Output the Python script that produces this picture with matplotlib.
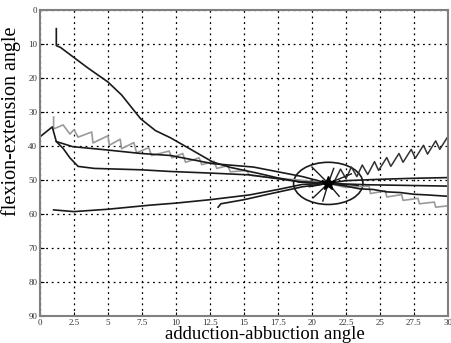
import matplotlib
matplotlib.use("Agg")
import matplotlib.pyplot as plt
from matplotlib.patches import Ellipse

# joint-angle trajectories converging on one posture
top_x = [1.2, 1.2, 1.5, 2.5, 3.5, 5.0, 6.0, 7.4, 8.5, 9.6, 11.0, 12.7, 14.0, 16.0, 17.5, 19.1, 21.2,
         22.5, 23.5, 24.5, 25.5, 26.5, 27.5, 28.5, 30.0]
top_y = [5.5, 10.5, 11.0, 14.0, 17.0, 21.2, 25.0, 32.0, 35.5, 37.6, 40.8, 44.7, 46.3, 48.0, 49.4, 50.6, 51.0,
         51.8, 52.6, 52.8, 53.5, 53.7, 54.2, 54.4, 54.8]

upper_x = [0.0, 0.9, 1.2, 2.4, 5.0, 7.4, 9.6, 12.7, 15.7, 19.3, 21.2, 24.0, 27.0, 30.0]
upper_y = [37.3, 34.4, 38.7, 40.2, 41.2, 42.2, 42.8, 45.2, 46.2, 49.0, 51.0, 51.4, 51.6, 51.8]

lower_x = [1.2, 1.7, 2.2, 2.8, 4.0, 7.4, 9.6, 12.7, 15.4, 19.3, 21.2, 22.5, 25.0, 27.5, 30.0]
lower_y = [38.7, 40.7, 43.5, 46.0, 46.6, 47.0, 47.5, 48.0, 48.5, 50.6, 51.0, 50.2, 49.8, 49.5, 49.3]

rise_x = [1.0, 2.5, 5.0, 8.1, 10.0, 12.5, 15.4, 17.5, 19.3, 21.2]
rise_y = [58.8, 59.3, 58.6, 57.4, 56.8, 55.8, 54.4, 52.8, 51.3, 51.0]

short_x = [13.1, 13.3, 15.0, 17.0, 19.3, 21.2]
short_y = [58.0, 57.0, 55.8, 54.0, 52.0, 51.0]

gray_x = [1.0, 1.0, 1.7, 2.2, 2.5, 2.8, 3.8, 3.9, 5.0, 5.1, 5.9, 6.0, 6.9, 7.1, 8.0, 8.2, 9.5, 9.7,
          10.5, 10.7, 11.7, 11.9, 12.8, 13.0, 13.8, 14.0, 15.2, 15.4, 17.5, 19.0, 21.2,
          22.5, 24.2, 24.3, 25.4, 25.5, 26.6, 26.7, 27.8, 27.9, 29.0, 29.1, 30.0]
gray_y = [31.5, 35.0, 33.8, 36.5, 35.2, 37.4, 35.9, 39.1, 37.0, 39.8, 38.0, 40.8, 39.0, 42.0, 40.5, 42.8, 41.5, 43.5,
          42.2, 44.8, 43.5, 45.5, 44.5, 46.6, 45.8, 47.6, 47.2, 48.6, 49.5, 50.0, 51.0,
          52.2, 51.8, 54.0, 53.2, 55.0, 54.3, 56.0, 55.4, 57.0, 56.5, 58.0, 57.6]

saw_x = [21.7, 22.1, 22.5, 22.9, 23.3, 23.7, 24.1, 24.6, 24.9, 25.5, 25.8, 26.4, 26.7, 27.3, 27.6, 28.2,
         28.5, 29.1, 29.4, 30.0]
saw_y = [50.0, 46.8, 49.6, 46.2, 49.0, 45.6, 48.4, 44.6, 47.2, 43.4, 46.0, 42.2, 44.8, 41.0, 43.6, 39.8,
         42.4, 38.5, 41.0, 37.2]

# focus point and spikes around it
focus = (21.2, 51.0)
spike_x = [20.0, 20.1, 20.8, 22.0, 21.6, 19.0, 23.4, 22.9, 19.8]
spike_y = [46.2, 55.2, 56.2, 54.8, 46.6, 50.6, 51.6, 48.2, 52.0]
ell_w, ell_h = 5.1, 12.4

x_ticks = [0, 2.5, 5, 7.5, 10, 12.5, 15, 17.5, 20, 22.5, 25, 27.5, 30]
y_ticks = [0, 10, 20, 30, 40, 50, 60, 70, 80, 90]

fig = plt.figure(figsize=(4.52, 3.43), dpi=100)
ax = fig.add_axes([0.0885, 0.0787, 0.9025, 0.8923])

ax.plot(gray_x, gray_y, color="#9a9a9a", lw=1.2)
ax.plot(top_x, top_y, color="#1a1a1a", lw=1.2)
ax.plot(upper_x, upper_y, color="#1a1a1a", lw=1.2)
ax.plot(lower_x, lower_y, color="#1a1a1a", lw=1.2)
ax.plot(rise_x, rise_y, color="#1a1a1a", lw=1.2)
ax.plot(short_x, short_y, color="#1a1a1a", lw=1.2)
ax.plot(saw_x, saw_y, color="#333333", lw=1.1)

for sx, sy in zip(spike_x, spike_y):
    ax.plot([focus[0], sx], [focus[1], sy], color="#1a1a1a", lw=1.0)
ax.plot(*focus, marker="*", ms=10, color="black")
ax.add_patch(Ellipse(focus, ell_w, ell_h, fill=False, ec="#1a1a1a", lw=1.2))

ax.set_xlim(0, 30)
ax.set_ylim(90, 0)
ax.set_xticks(x_ticks)
ax.set_xticklabels([f"{t:g}" for t in x_ticks])
ax.set_yticks(y_ticks)
ax.grid(True, color="black", ls=(0, (1.5, 3)), lw=0.9)
ax.tick_params(direction="in", length=3, labelsize=6.5, labelcolor="#333333", pad=2)
for s in ax.spines.values():
    s.set_color("#808080")
    s.set_linewidth(1.5)

ax.set_xlabel("adduction-abbuction angle", family="Liberation Serif", fontsize=13.5)
ax.set_ylabel("flexion-extension angle", family="Liberation Serif", fontsize=14.5)
ax.xaxis.set_label_coords(0.551, -0.034)
ax.yaxis.set_label_coords(-0.046, 0.637)
for lab in ax.get_xticklabels() + ax.get_yticklabels():
    lab.set_family("Liberation Serif")

fig.savefig("out.png", dpi=100)
